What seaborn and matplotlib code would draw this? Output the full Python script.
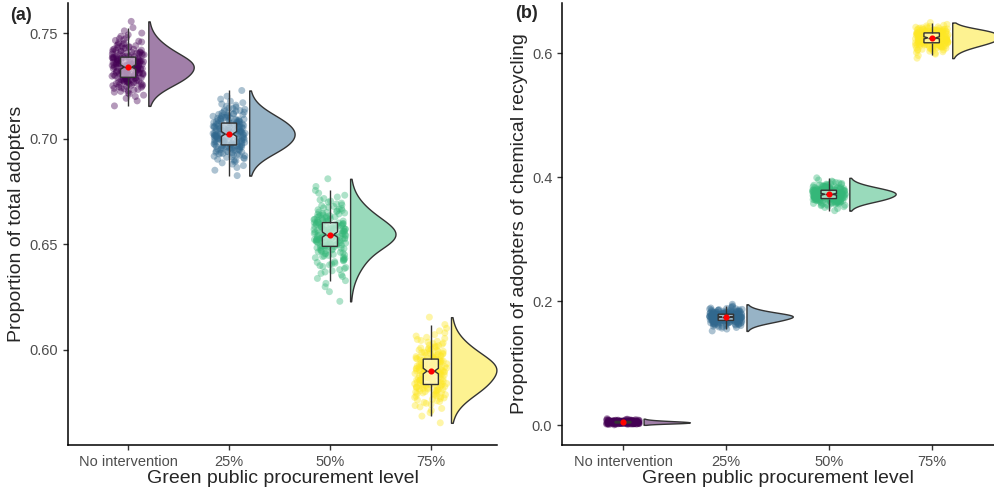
import numpy as np
import pandas as pd
import matplotlib
matplotlib.use("Agg")
import matplotlib.pyplot as plt
import matplotlib.transforms as mtransforms
import seaborn as sns
from statistics import NormalDist

levels = ["No intervention", "25%", "50%", "75%"]
palette = ["#440154", "#31688E", "#35B779", "#FDE725"]

# Proportion of total adopters: min, quartiles, max per procurement level
total_min = [0.7155, 0.6825, 0.6230, 0.5655]
total_q1 = [0.7290, 0.6970, 0.6490, 0.5836]
total_med = [0.7339, 0.7022, 0.6546, 0.5900]
total_q3 = [0.7386, 0.7074, 0.6603, 0.5957]
total_max = [0.7555, 0.7228, 0.6810, 0.6155]

# Proportion of adopters of chemical recycling
chem_min = [0.0005, 0.1520, 0.3460, 0.5920]
chem_q1 = [0.0035, 0.1690, 0.3655, 0.6168]
chem_med = [0.0047, 0.1745, 0.3725, 0.6248]
chem_q3 = [0.0060, 0.1790, 0.3790, 0.6328]
chem_max = [0.0105, 0.1950, 0.3990, 0.6495]

n_runs = 200


def runs_from_summary(lo, q1, med, q3, hi, n=n_runs):
    p = (np.arange(n) + 0.5) / n
    z = np.array([NormalDist().inv_cdf(v) for v in p])
    zq = NormalDist().inv_cdf(0.75)
    return np.interp(z, [z[0], -zq, 0.0, zq, z[-1]], [lo, q1, med, q3, hi])


def build_frame(mins, q1s, meds, q3s, maxs):
    rows = []
    for lev, a, b, c, d, e in zip(levels, mins, q1s, meds, q3s, maxs):
        for v in runs_from_summary(a, b, c, d, e):
            rows.append((lev, v))
    return pd.DataFrame(rows, columns=["level", "value"])


df_total = build_frame(total_min, total_q1, total_med, total_q3, total_max)
df_chem = build_frame(chem_min, chem_q1, chem_med, chem_q3, chem_max)

sns.set_theme(style="ticks")
plt.rcParams["font.family"] = ["Liberation Sans", "DejaVu Sans"]
np.random.seed(7)

fig = plt.figure(figsize=(9.94, 4.92), dpi=100)
ax_a = fig.add_axes([68 / 994, 1 - 445 / 492, 429 / 994, 442 / 492])
ax_b = fig.add_axes([562 / 994, 1 - 445 / 492, 432 / 994, 442 / 492])

edge = "#333333"
violin_width = 0.45
cloud_gap = 0.2


def raincloud(ax, df):
    # half violins, mirrored so the flat side sits just right of the points
    n0 = len(ax.collections)
    sns.violinplot(data=df, x="level", y="value", order=levels, split=True,
                   inner=None, cut=0, density_norm="width", width=violin_width,
                   bw_adjust=1.15, linewidth=1.0, linecolor=edge, color="white",
                   ax=ax)
    for i, (coll, col) in enumerate(zip(ax.collections[n0:], palette)):
        flip = mtransforms.Affine2D().scale(-1, 1).translate(
            2 * i + violin_width / 2 + cloud_gap, 0)
        coll.set_transform(flip + ax.transData)
        coll.set_facecolor(matplotlib.colors.to_rgba(col, 0.5))
        coll.set_edgecolor(edge)
        coll.set_zorder(1)
    # jittered runs
    s0 = len(ax.collections)
    sns.stripplot(data=df, x="level", y="value", order=levels, hue="level",
                  hue_order=levels, palette=palette, jitter=0.16, size=5,
                  alpha=0.4, linewidth=0, legend=False, ax=ax)
    for coll in ax.collections[s0:]:
        coll.set_zorder(2)
    # notched boxes
    p0 = len(ax.patches)
    l0 = len(ax.lines)
    sns.boxplot(data=df, x="level", y="value", order=levels, width=0.15,
                showfliers=False, showcaps=False, shownotches=True,
                color="white", linecolor=edge, linewidth=1.0, ax=ax)
    for patch in ax.patches[p0:]:
        patch.set_facecolor((1, 1, 1, 0.55))
        patch.set_zorder(3)
    for line in ax.lines[l0:]:
        line.set_zorder(3.5)
    # mean of each level
    m0 = len(ax.lines)
    sns.pointplot(data=df, x="level", y="value", order=levels, estimator="mean",
                  errorbar=None, color="red", linestyle="none", markers="o",
                  markersize=2.4, ax=ax)
    for line in ax.lines[m0:]:
        line.set_zorder(5)


raincloud(ax_a, df_total)
raincloud(ax_b, df_chem)

ax_a.set_xlim(-0.596, 3.656)
ax_a.set_ylim(0.555, 0.7642)
ax_a.set_yticks([0.60, 0.65, 0.70, 0.75])
ax_a.set_yticklabels(["0.60", "0.65", "0.70", "0.75"])
ax_a.set_ylabel("Proportion of total adopters")

ax_b.set_xlim(-0.593, 3.606)
ax_b.set_ylim(-0.032, 0.681)
ax_b.set_yticks([0.0, 0.2, 0.4, 0.6])
ax_b.set_yticklabels(["0.0", "0.2", "0.4", "0.6"])
ax_b.set_ylabel("Proportion of adopters of chemical recycling")

for ax in (ax_a, ax_b):
    ax.set_xlabel("Green public procurement level")
    ax.xaxis.label.set_size(14)
    ax.yaxis.label.set_size(14)
    ax.xaxis.labelpad = 1
    ax.yaxis.labelpad = 3
    ax.tick_params(axis="both", labelsize=10.5, labelcolor="#4D4D4D",
                   color=edge, length=3.5, width=1)
    for side in ("left", "bottom"):
        ax.spines[side].set_color("black")
        ax.spines[side].set_linewidth(1.1)
    sns.despine(ax=ax)

fig.text(10 / 994, 1 - 15 / 492, "(a)", fontsize=13, fontweight="bold", va="center")
fig.text(515 / 994, 1 - 14 / 492, "(b)", fontsize=13, fontweight="bold", va="center")

fig.savefig("out.png", dpi=100)
